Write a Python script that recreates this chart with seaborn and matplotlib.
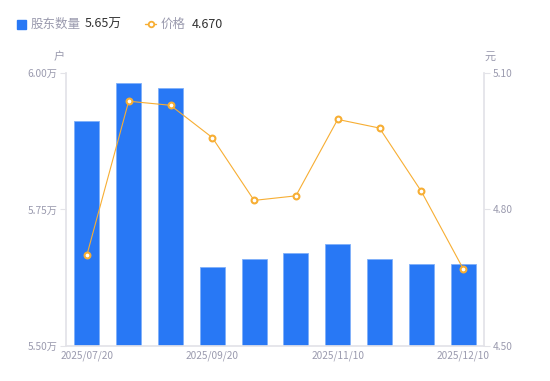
import numpy as np
import seaborn as sns
import matplotlib.pyplot as plt

sns.set_theme(style="white")
plt.rcParams['font.family'] = ['Noto Sans CJK SC', 'DejaVu Sans']

# data
dates = ['2025/07/20', '2025/07/31', '2025/08/31', '2025/09/20', '2025/09/30',
         '2025/10/20', '2025/11/10', '2025/11/20', '2025/11/30', '2025/12/10']
holders = [5.912, 5.982, 5.972, 5.644, 5.660, 5.671, 5.686, 5.659, 5.650, 5.650]  # 万户
prices = [4.700, 5.038, 5.029, 4.958, 4.820, 4.830, 4.998, 4.979, 4.840, 4.670]  # 元
left_ticks = [5.50, 5.75, 6.00]
right_ticks = [4.50, 4.80, 5.10]

blue = '#2878F5'
orange = '#F7AE33'
grey = '#9a9aae'
spine = '#e3e3e8'

fig = plt.figure(figsize=(5.5, 3.81), dpi=100)
ax = fig.add_axes([0.12, 0.0919, 0.76, 0.7165])

sns.barplot(x=dates, y=holders, ax=ax, color=blue, width=0.6,
            saturation=1, edgecolor='#7fb0fa', linewidth=0.6)
ax.set_ylim(5.50, 6.00)
ax.set_xlim(-0.5, 9.5)
ax.set_yticks(left_ticks)
ax.set_yticklabels([f'{t:.2f}万' for t in left_ticks])
ax.set_xticks([0, 3, 6, 9])
ax.set_xticklabels([dates[i] for i in [0, 3, 6, 9]])
ax.set_xlabel('')
ax.set_ylabel('')

ax2 = ax.twinx()
sns.lineplot(x=np.arange(len(prices)), y=prices, ax=ax2, color=orange,
             linewidth=0.8, marker='o', markersize=4.2,
             markerfacecolor='white', markeredgecolor=orange, markeredgewidth=1.5)
ax2.set_ylim(4.50, 5.10)
ax2.set_yticks(right_ticks)
ax2.set_yticklabels([f'{t:.2f}' for t in right_ticks])
ax2.set_ylabel('')

for a in (ax, ax2):
    for s in a.spines.values():
        s.set_visible(False)
    a.tick_params(colors=grey, labelsize=7.3, length=4, width=0.8, pad=2)
    a.tick_params(axis='y', color=spine)
ax.spines['left'].set_visible(True)
ax.spines['left'].set_color(spine)
ax.spines['bottom'].set_visible(True)
ax.spines['bottom'].set_color(spine)
ax2.spines['right'].set_visible(True)
ax2.spines['right'].set_color(spine)
ax.tick_params(axis='x', length=0, pad=3)
ax.tick_params(axis='y', left=True)
ax2.tick_params(axis='y', right=True)

# unit labels
fig.text(59 / 550, 1 - 57 / 381, '户', color=grey, fontsize=8, ha='center', va='center')
fig.text(490 / 550, 1 - 57 / 381, '元', color=grey, fontsize=8, ha='center', va='center')

# legend
ly = 1 - 24 / 381
fig.patches.append(plt.Rectangle((17 / 550, 1 - 29 / 381), 9 / 550, 9 / 381,
                                 transform=fig.transFigure, color=blue))
fig.text(31 / 550, ly, '股东数量', color=grey, fontsize=9, va='center')
fig.text(85 / 550, ly, f'{holders[-1]:.2f}万', color='#333333', fontsize=9, va='center')
fig.lines.append(plt.Line2D([145 / 550, 150.5 / 550, 156 / 550], [ly, ly, ly],
                            transform=fig.transFigure,
                            color=orange, linewidth=1, marker='o', markersize=4,
                            markerfacecolor='white', markeredgewidth=1.3,
                            markevery=[1], markeredgecolor=orange))
fig.text(161 / 550, ly, '价格', color=grey, fontsize=9, va='center')
fig.text(192 / 550, ly, f'{prices[-1]:.3f}', color='#333333', fontsize=9, va='center')

fig.savefig('out.png', dpi=100)
